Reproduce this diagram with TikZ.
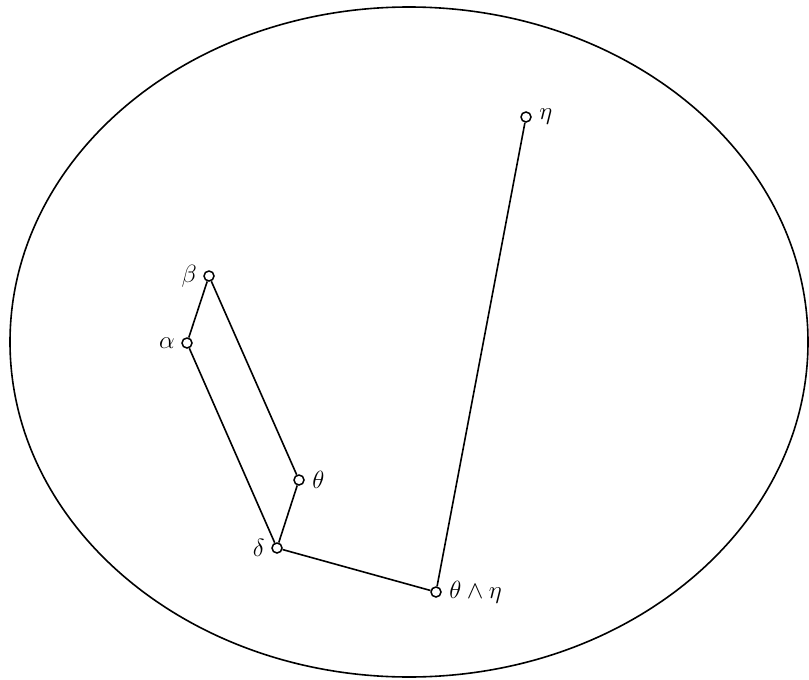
\documentclass[tikz,border=0pt]{standalone}
\begin{document}
\begin{tikzpicture}[x=1pt,y=-1pt,
  pt/.style={circle,draw,fill=white,line width=1.5pt,minimum size=10pt,inner sep=0pt},
  every label/.style={font=\fontsize{24}{28}\selectfont,label distance=4pt},
  edge/.style={line width=1.6pt}]
\useasboundingbox (0,0) rectangle (809,680);
\draw[edge] (409,342) ellipse [x radius=399, y radius=335];
\node[pt,label=right:{$\eta$}] (eta) at (526,117) {};
\node[pt,label={[label distance=3pt]left:{$\beta$}}] (beta) at (209,276) {};
\node[pt,label={[label distance=3pt]left:{$\alpha$}}] (alpha) at (187,343) {};
\node[pt,label=right:{$\theta$}] (theta) at (299,480) {};
\node[pt,label={[label distance=3pt]left:{$\delta$}}] (delta) at (277,548) {};
\node[pt,label=right:{$\theta\wedge\eta$}] (te) at (436,592) {};
\draw[edge] (eta) -- (te);
\draw[edge] (te) -- (delta);
\draw[edge] (delta) -- (theta);
\draw[edge] (theta) -- (beta);
\draw[edge] (beta) -- (alpha);
\draw[edge] (alpha) -- (delta);
\end{tikzpicture}
\end{document}
